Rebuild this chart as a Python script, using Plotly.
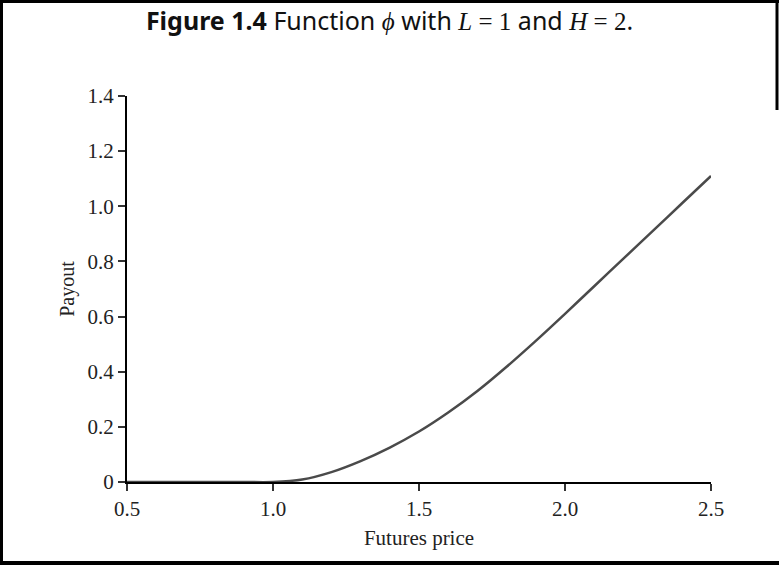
import plotly.graph_objects as go

# Data
futures_price = [0.5, 0.6, 0.7, 0.8, 0.9, 1.0, 1.1, 1.2, 1.3, 1.4, 1.5,
                 1.6, 1.7, 1.8, 1.9, 2.0, 2.1, 2.2, 2.3, 2.4, 2.5]
payout = [0.0, 0.0, 0.0, 0.0, 0.0, 0.0, 0.009, 0.036, 0.076, 0.125, 0.183,
          0.252, 0.330, 0.418, 0.512, 0.610, 0.710, 0.810, 0.910, 1.010, 1.110]

x_tickvals = [0.5, 1.0, 1.5, 2.0, 2.5]
x_ticktext = ["0.5", "1.0", "1.5", "2.0", "2.5"]
y_tickvals = [0, 0.2, 0.4, 0.6, 0.8, 1.0, 1.2, 1.4]
y_ticktext = ["0", "0.2", "0.4", "0.6", "0.8", "1.0", "1.2", "1.4"]

W, H = 779, 565
ML, MR, MT, MB = 127, 68, 96, 83
PW, PH = W - ML - MR, H - MT - MB


def px_to_paper_x(px):
    return (px - ML) / PW


def px_to_paper_y(py):
    return (H - MB - py) / PH


serif = "Liberation Serif, Times New Roman, serif"
sans = "Noto Sans, Open Sans, sans-serif"

fig = go.Figure()
fig.add_trace(go.Scatter(
    x=futures_price, y=payout, mode="lines",
    line=dict(color="#4a4a4a", width=2.5, shape="spline", smoothing=0.8),
    hoverinfo="skip", showlegend=False,
))

axis_common = dict(
    showline=True, linecolor="black", linewidth=2,
    ticks="outside", ticklen=7, tickwidth=1.5, tickcolor="#333333",
    showgrid=False, zeroline=False, mirror=False,
    tickfont=dict(family=serif, size=21, color="#222222"),
)

fig.update_xaxes(range=[0.5, 2.5], tickvals=x_tickvals, ticktext=x_ticktext,
                 title=dict(text="Futures price", font=dict(family=serif, size=21, color="#222222"), standoff=10),
                 **axis_common)
fig.update_yaxes(range=[0, 1.4], tickvals=y_tickvals, ticktext=y_ticktext,
                 title=dict(text="Payout", font=dict(family=serif, size=20, color="#222222"), standoff=8),
                 **axis_common)

mi = '<span style="font-family:Liberation Serif;font-style:italic">'
mr = '<span style="font-family:Liberation Serif">'
title_text = ('<b>Figure 1.4</b> Function ' + mi + 'ϕ</span> with '
              + mi + 'L</span>' + mr + ' = 1</span> and '
              + mi + 'H</span>' + mr + ' = 2</span>.')

fig.update_layout(
    width=W, height=H,
    margin=dict(l=ML, r=MR, t=MT, b=MB),
    paper_bgcolor="white", plot_bgcolor="white",
    title=dict(text=title_text, x=0.5, xanchor="center", xref="container",
               y=1 - 21 / H, yanchor="middle", yref="container",
               font=dict(family=sans, size=25, color="#111111")),
)

# Outer frame
fig.add_shape(type="line", xref="paper", yref="paper",
              x0=px_to_paper_x(1.5), x1=px_to_paper_x(1.5),
              y0=px_to_paper_y(0), y1=px_to_paper_y(H),
              line=dict(color="black", width=3))
fig.add_shape(type="line", xref="paper", yref="paper",
              x0=px_to_paper_x(0), x1=px_to_paper_x(W),
              y0=px_to_paper_y(1.5), y1=px_to_paper_y(1.5),
              line=dict(color="black", width=3))
fig.add_shape(type="line", xref="paper", yref="paper",
              x0=px_to_paper_x(0), x1=px_to_paper_x(W),
              y0=px_to_paper_y(H - 2), y1=px_to_paper_y(H - 2),
              line=dict(color="black", width=4))
fig.add_shape(type="line", xref="paper", yref="paper",
              x0=px_to_paper_x(W - 2), x1=px_to_paper_x(W - 2),
              y0=px_to_paper_y(0), y1=px_to_paper_y(110),
              line=dict(color="black", width=3))

fig.write_html("out.html")
